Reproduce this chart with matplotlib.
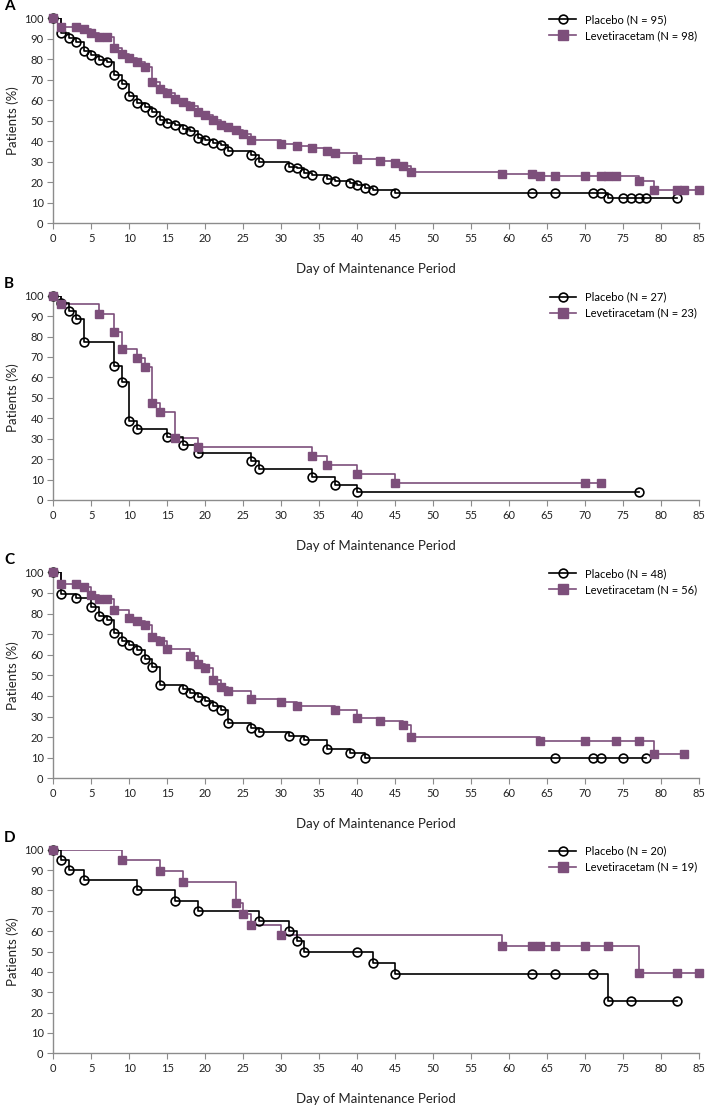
import matplotlib
matplotlib.use("Agg")
import matplotlib.pyplot as plt
from matplotlib.lines import Line2D

plt.rcParams['font.family'] = ['Lato', 'DejaVu Sans']

# ---- data (day, % patients) ----
panels = ['A', 'B', 'C', 'D']
n_placebo = [95, 27, 48, 20]
n_lev = [98, 23, 56, 19]

pla_days_A = [0, 1, 2, 3, 4, 5, 6, 7, 8, 9, 10, 11, 12, 13, 14, 15, 16, 17, 18, 19, 20, 21, 22, 23, 26, 27,
              31, 32, 33, 34, 36, 37, 39, 40, 41, 42, 45, 63, 66, 71, 72, 73, 75, 76, 77, 78, 82]
pla_pct_A = [100, 92.7, 90.6, 88.3, 84.1, 82, 79.8, 78.5, 72.4, 68.1, 61.8, 58.5, 56.6, 54.3, 50.1, 48.8,
             47.8, 45.9, 44.7, 41.5, 40.7, 39.3, 38.2, 35.3, 33.0, 29.8, 27.6, 26.7, 24.6, 23.6, 21.5, 20.3,
             19.5, 18.4, 17.1, 15.9, 14.8, 14.8, 14.8, 14.8, 14.8, 12.4, 12.4, 12.4, 12.4, 12.4, 12.4]
lev_days_A = [0, 1, 3, 4, 5, 6, 7, 8, 9, 10, 11, 12, 13, 14, 15, 16, 17, 18, 19, 20, 21, 22, 23, 24, 25, 26,
              30, 32, 34, 36, 37, 40, 43, 45, 46, 47, 59, 63, 64, 66, 70, 72, 73, 74, 77, 79, 82, 83, 85]
lev_pct_A = [100, 95.9, 95.9, 94.6, 93.0, 90.9, 90.9, 85.4, 82.6, 80.5, 78.5, 76.3, 68.8, 65.7, 63.7, 60.5,
             59.3, 57.4, 54.1, 52.8, 50.1, 48.1, 46.8, 45.2, 43.7, 40.7, 38.5, 37.6, 36.4, 35.4, 34.3, 31.4,
             30.1, 29.3, 28.0, 25.0, 23.9, 23.9, 22.9, 22.9, 22.9, 22.9, 22.9, 22.9, 20.3, 16.3, 16.3, 16.3, 16.3]

pla_days_B = [0, 1, 2, 3, 4, 8, 9, 10, 11, 15, 17, 19, 26, 27, 34, 37, 40, 77]
pla_pct_B = [100, 96.3, 92.5, 88.7, 77.2, 65.6, 57.9, 38.5, 34.6, 30.8, 27.1, 23.0, 19.1, 15.0, 11.4, 7.5,
             3.75, 3.75]
lev_days_B = [0, 1, 6, 8, 9, 11, 12, 13, 14, 16, 19, 34, 36, 40, 45, 70, 72]
lev_pct_B = [100, 95.7, 91.2, 82.4, 73.7, 69.3, 64.9, 47.6, 43.2, 30.2, 26.1, 21.7, 17.3, 12.9, 8.5, 8.5, 8.5]

pla_days_C = [0, 1, 3, 5, 6, 7, 8, 9, 10, 11, 12, 13, 14, 17, 18, 19, 20, 21, 22, 23, 26, 27, 31, 33, 36,
              39, 41, 66, 71, 72, 75, 78]
pla_pct_C = [100, 89.5, 87.4, 83.2, 79.0, 76.9, 70.7, 66.5, 64.6, 62.3, 58.1, 53.9, 45.5, 43.4, 41.6, 39.5,
             37.4, 35.3, 33.2, 26.7, 24.6, 22.7, 20.6, 18.4, 14.2, 12.1, 10.0, 10, 10, 10, 10, 10]
lev_days_C = [0, 1, 3, 4, 5, 6, 7, 8, 10, 11, 12, 13, 14, 15, 18, 19, 20, 21, 22, 23, 26, 30, 32, 37, 40,
              43, 46, 47, 64, 70, 74, 77, 79, 83]
lev_pct_C = [100, 94.3, 94.3, 92.9, 89.0, 87.2, 87.2, 81.6, 77.8, 76.2, 74.3, 68.6, 66.8, 62.9, 59.2, 55.7,
             53.6, 47.9, 44.3, 42.6, 38.5, 36.9, 35.0, 33.2, 29.3, 27.7, 25.7, 20.1, 18.3, 18.3, 18.3, 18.3,
             12.0, 12.0]

pla_days_D = [0, 1, 2, 4, 11, 16, 19, 27, 31, 32, 33, 40, 42, 45, 63, 66, 71, 73, 76, 82]
pla_pct_D = [100, 95, 90, 85, 80, 75, 70, 65, 60, 55, 50, 50, 44.4, 38.9, 38.9, 38.9, 38.9, 25.9, 25.9, 25.9]
lev_days_D = [0, 9, 14, 17, 24, 25, 26, 30, 59, 63, 64, 66, 70, 73, 77, 82, 85]
lev_pct_D = [100, 94.7, 89.5, 84.2, 73.7, 68.4, 63.2, 57.9, 52.6, 52.6, 52.6, 52.6, 52.6, 52.6, 39.5, 39.5,
             39.5]

pla_days = [pla_days_A, pla_days_B, pla_days_C, pla_days_D]
pla_pct = [pla_pct_A, pla_pct_B, pla_pct_C, pla_pct_D]
lev_days = [lev_days_A, lev_days_B, lev_days_C, lev_days_D]
lev_pct = [lev_pct_A, lev_pct_B, lev_pct_C, lev_pct_D]

# ---- style ----
purple = '#7d4f7b'
grey = '#8c8c8c'

fig = plt.figure(figsize=(7.09, 11.05), dpi=100)

# axes boxes in pixels: (bottom of 0%, top of 100%)
W, H = 709, 1105
x0, x1 = 53.3, 699.3
y_boxes = [(223, 18.3), (500, 295.7), (778.3, 572.3), (1053.3, 849.7)]

for i, p in enumerate(panels):
    yb, yt = y_boxes[i]
    ax = fig.add_axes([x0 / W, (H - yb) / H, (x1 - x0) / W, (yb - yt) / H])

    # step lines
    ax.step(pla_days[i], pla_pct[i], where='post', color='black', lw=1.2, zorder=3)
    ax.step(lev_days[i], lev_pct[i], where='post', color=purple, lw=1.2, zorder=2)
    # markers at each step / censor (squares sit on top, as in the original)
    ax.plot(pla_days[i], pla_pct[i], ls='none', marker='o', ms=6.3, mfc='none', mec='black',
            mew=1.2, zorder=4, clip_on=False)
    ax.plot(lev_days[i], lev_pct[i], ls='none', marker='s', ms=5.5, mfc=purple, mec=purple,
            zorder=5, clip_on=False)

    ax.set_xlim(0, 85)
    ax.set_ylim(0, 100)
    ax.set_xticks(range(0, 86, 5))
    ax.set_yticks(range(0, 101, 10))
    ax.tick_params(axis='both', labelsize=8, length=4, width=0.8, color=grey, pad=3,
                   labelcolor='#222222')
    for s in ['top', 'right']:
        ax.spines[s].set_visible(False)
    for s in ['left', 'bottom']:
        ax.spines[s].set_color(grey)
        ax.spines[s].set_linewidth(1.0)

    ax.set_xlabel('Day of Maintenance Period', fontsize=9.5, labelpad=14, color='#222222')
    ax.set_ylabel('Patients (%)', fontsize=9.5, labelpad=4, color='#222222')

    handles = [
        Line2D([], [], color='black', lw=1.2, marker='o', ms=6.3, mfc='none', mew=1.2),
        Line2D([], [], color=purple, lw=1.2, marker='s', ms=7, mfc=purple, mec=purple),
    ]
    labels = ['Placebo (N = %d)' % n_placebo[i], 'Levetiracetam (N = %d)' % n_lev[i]]
    ax.legend(handles, labels, loc='upper right', bbox_to_anchor=(1.012, 1.07), frameon=False,
              fontsize=8, handlelength=2.4, handletextpad=0.8, labelspacing=0.45)

    fig.text(4 / W, 1 - (yt - 12) / H, p, fontsize=11, fontweight='bold', va='center', ha='left')

fig.savefig('out.png', dpi=100)
